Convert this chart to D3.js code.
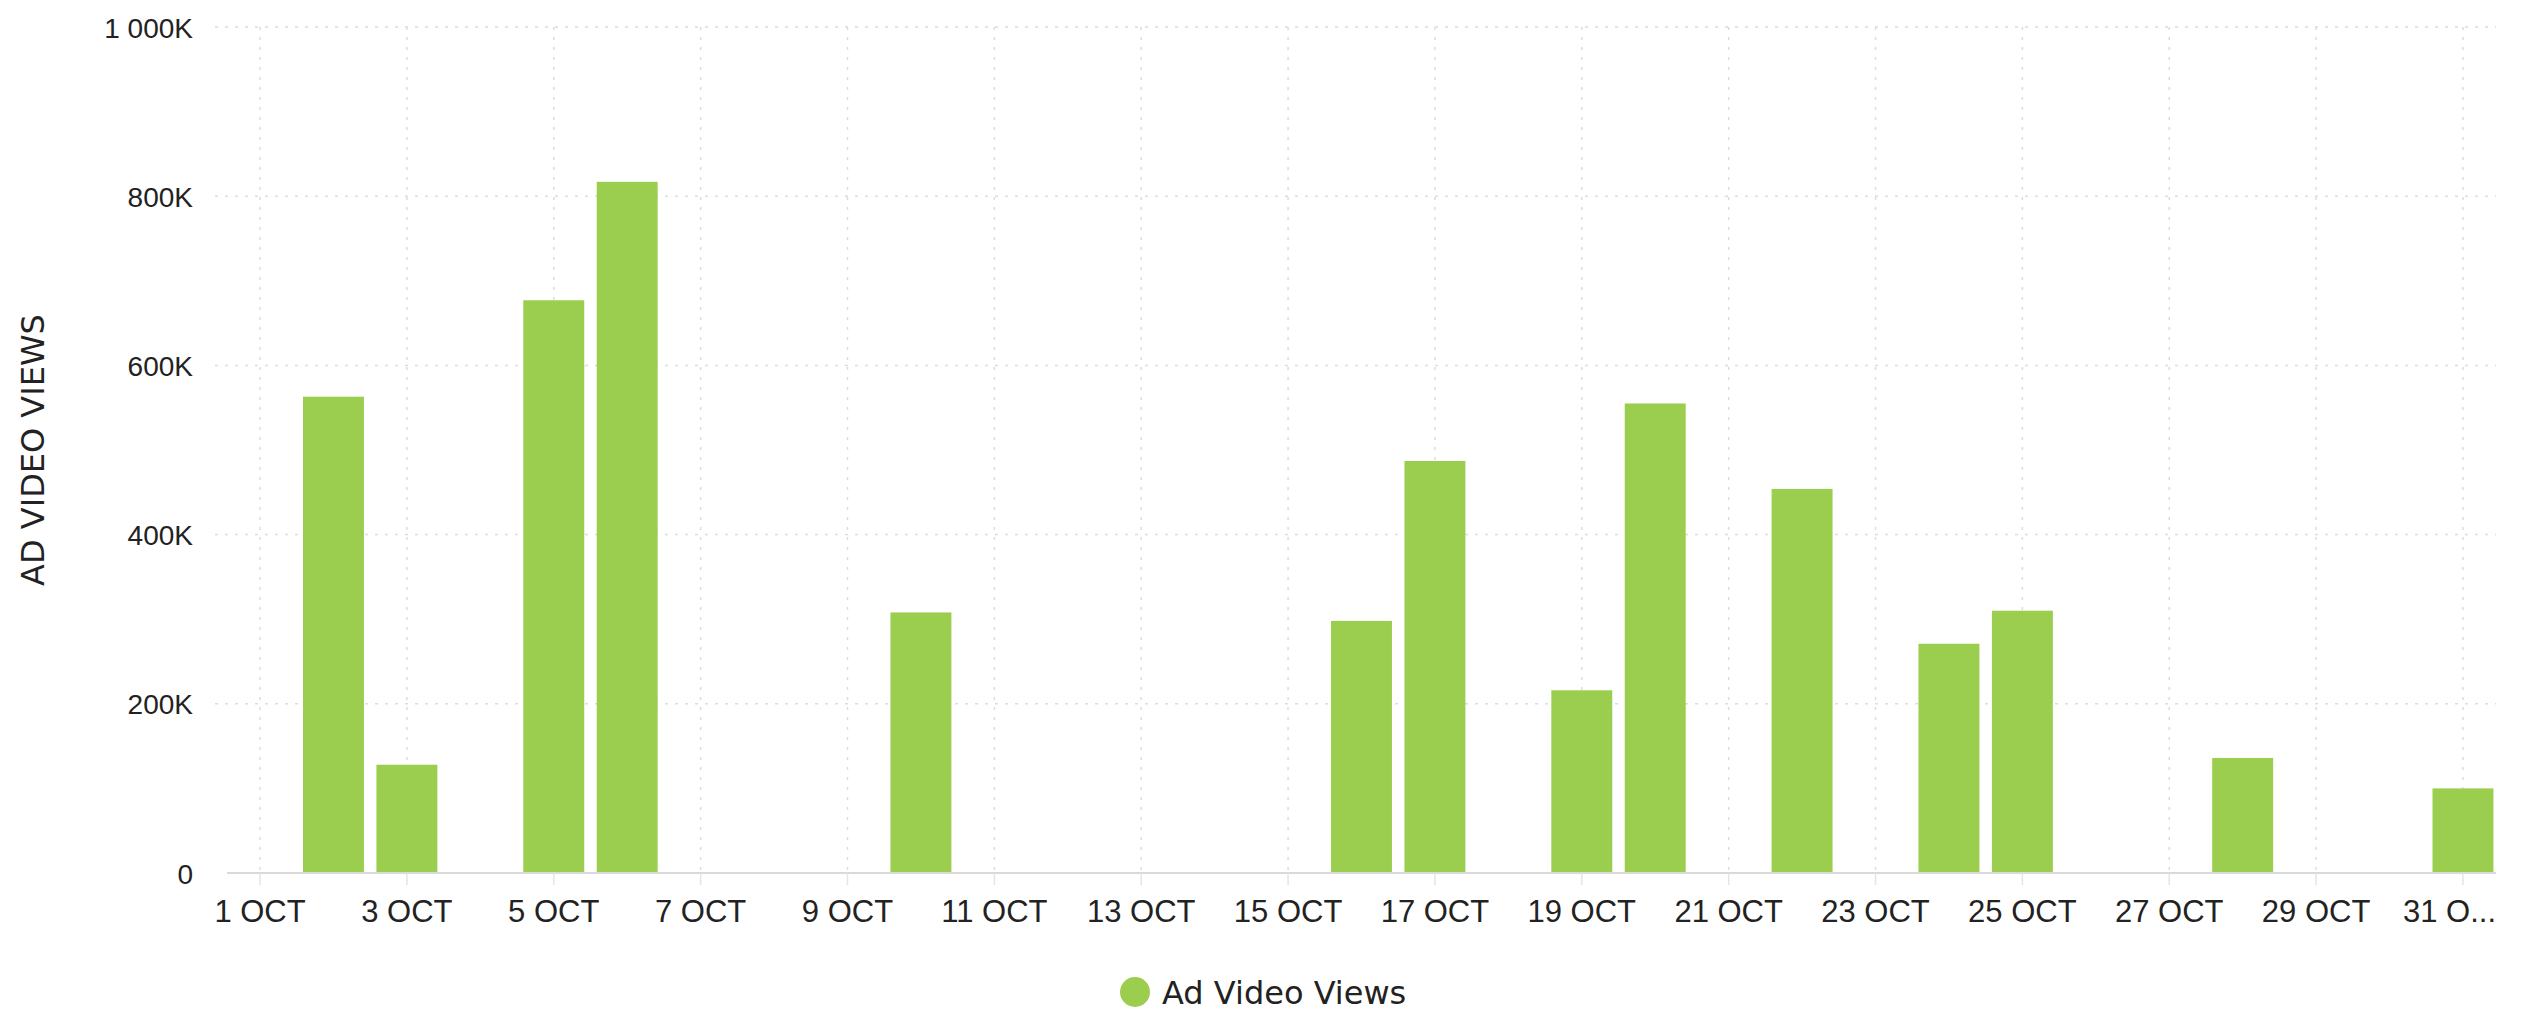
<!DOCTYPE html>
<html>
<head>
<meta charset="utf-8">
<script src="https://cdn.jsdelivr.net/npm/d3@7"></script>
<style>
  html, body { margin: 0; padding: 0; background: #ffffff; }
  svg { display: block; font-family: "DejaVu Sans", Verdana, sans-serif; }
</style>
</head>
<body>
<svg id="chart" width="2522" height="1011"></svg>
<script>
// Daily ad video views for October (thousands); days without a value have no bar
const days = d3.range(1, 32);
const viewDays = [2, 3, 5, 6, 10, 16, 17, 19, 20, 22, 24, 25, 28, 31];
const viewValues = [563, 128, 677, 817, 308, 298, 487, 216, 555, 454, 271, 310, 136, 100];
const yTickValues = [0, 200, 400, 600, 800, 1000];
const labelDays = [1, 3, 5, 7, 9, 11, 13, 15, 17, 19, 21, 23, 25, 27, 29, 31];
const monthLabel = "OCT";
const seriesName = "Ad Video Views";
const yAxisTitle = "AD VIDEO VIEWS";

const W = 2522, H = 1011;
const margin = { top: 27, right: 26, bottom: 138, left: 227 };
const innerW = W - margin.left - margin.right;
const innerH = H - margin.top - margin.bottom;

const barColor = "#9bce4e";
const gridColor = "#dcdcdc";
const textColor = "#222222";

const svg = d3.select("#chart");
const g = svg.append("g").attr("transform", `translate(${margin.left},${margin.top})`);

const x = d3.scaleBand()
  .domain(days)
  .range([0, innerW])
  .paddingInner(0.17)
  .paddingOuter(0.035);

const y = d3.scaleLinear().domain([0, 1000]).range([innerH, 0]);

const fmt = v => v === 0 ? "0" : d3.format(",")(v).replace(/,/g, " ") + "K";

// horizontal grid
g.append("g").selectAll("line")
  .data(yTickValues.filter(v => v > 0))
  .join("line")
  .attr("x1", -12).attr("x2", innerW)
  .attr("y1", d => y(d)).attr("y2", d => y(d))
  .attr("stroke", gridColor).attr("stroke-width", 1.5)
  .attr("stroke-dasharray", "3,7");

// vertical grid at labelled days
const cx = d => x(d) + x.bandwidth() / 2;
g.append("g").selectAll("line")
  .data(labelDays)
  .join("line")
  .attr("x1", d => cx(d)).attr("x2", d => cx(d))
  .attr("y1", 0).attr("y2", innerH)
  .attr("stroke", gridColor).attr("stroke-width", 1.5)
  .attr("stroke-dasharray", "3,7");

// bars
const series = viewDays.map((d, i) => ({ day: d, value: viewValues[i] }));
g.append("g").selectAll("rect")
  .data(series)
  .join("rect")
  .attr("x", d => x(d.day))
  .attr("width", x.bandwidth())
  .attr("y", d => y(d.value))
  .attr("height", d => innerH - y(d.value))
  .attr("fill", barColor);

// baseline
g.append("line")
  .attr("x1", 0).attr("x2", innerW)
  .attr("y1", innerH).attr("y2", innerH)
  .attr("stroke", "#d9d9d9").attr("stroke-width", 2);

// y axis
const yAxis = d3.axisLeft(y).tickValues(yTickValues).tickFormat(fmt).tickSize(0).tickPadding(34);
const yg = g.append("g").call(yAxis);
yg.select(".domain").remove();
yg.selectAll("text")
  .attr("fill", textColor)
  .style("font-size", "28px")
  .attr("dy", "0.36em");

// x axis
const xAxis = d3.axisBottom(x).tickValues(labelDays)
  .tickFormat(d => `${d} ${monthLabel}`)
  .tickSize(12).tickPadding(15);
const xg = g.append("g").attr("transform", `translate(0,${innerH})`).call(xAxis);
xg.select(".domain").remove();
xg.selectAll(".tick line").attr("stroke", "#e4e4e4").attr("stroke-width", 1.5);
xg.selectAll("text")
  .attr("fill", textColor)
  .style("font-size", "31px");

// a label running past the plot's right edge is shortened and pinned to that edge
const maxEdgeLabel = x.step() * 1.42;
xg.selectAll(".tick").each(function(d) {
  const t = d3.select(this).select("text");
  const node = t.node();
  const w = node.getComputedTextLength();
  if (cx(d) + w / 2 > innerW) {
    let s = t.text();
    while (s.length > 1 && node.getComputedTextLength() > maxEdgeLabel) {
      s = s.slice(0, -1);
      t.text(s.trimEnd() + "...");
    }
    t.attr("text-anchor", "end").attr("x", innerW - cx(d));
  }
});

// y axis title
svg.append("text")
  .attr("transform", `translate(44,${margin.top + innerH / 2}) rotate(-90)`)
  .attr("text-anchor", "middle")
  .attr("fill", textColor)
  .style("font-size", "32px")
  .text(yAxisTitle);

// legend
const lg = svg.append("g").attr("transform", "translate(1135,992)");
lg.append("circle").attr("r", 15).attr("fill", barColor);
lg.append("text")
  .attr("x", 27).attr("dy", "0.36em")
  .attr("fill", textColor)
  .style("font-size", "32px")
  .text(seriesName);
</script>
</body>
</html>
